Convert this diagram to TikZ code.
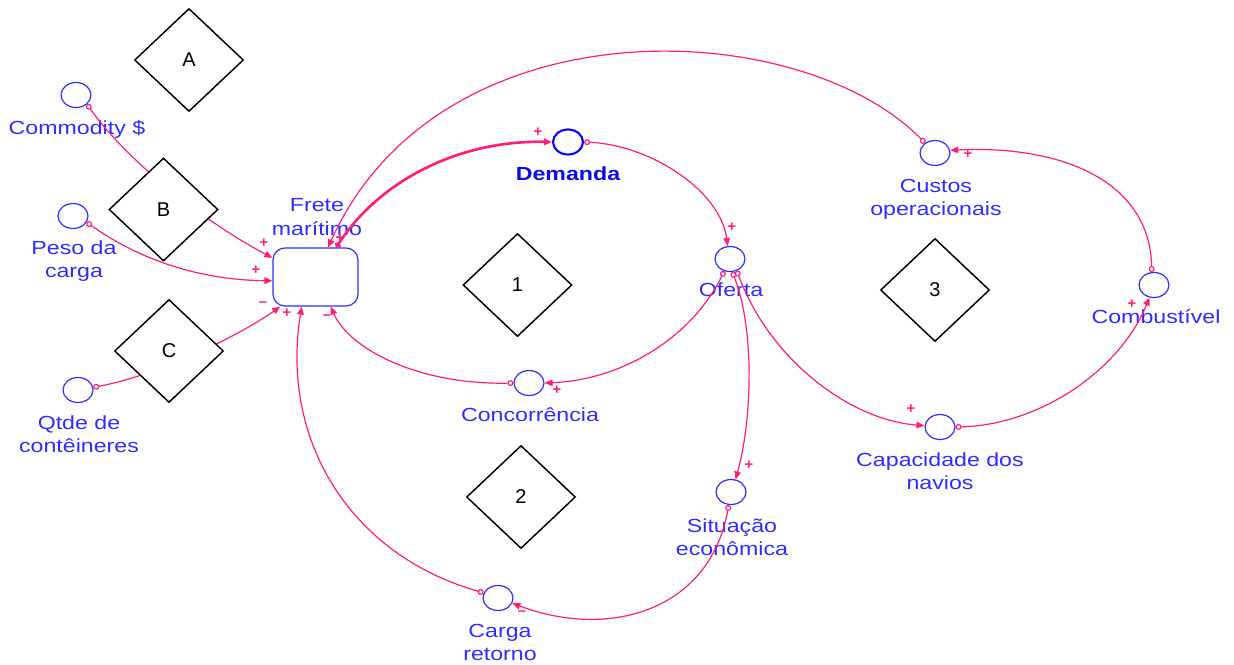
\documentclass[tikz,border=0pt]{standalone}
\usepackage{fontspec}
\setmainfont{Liberation Sans}
\newfontfamily\lblfont[FakeStretch=1.22]{Liberation Sans}
\usetikzlibrary{shapes.geometric,arrows.meta}
\definecolor{varblue}{RGB}{45,45,255}
\definecolor{demblue}{RGB}{10,10,230}
\definecolor{linkpink}{RGB}{255,30,120}

\tikzset{
  var/.style={ellipse, draw=varblue, line width=0.9pt, minimum width=22.5pt,
    minimum height=18.75pt, inner sep=0pt},
  lbl/.style={text=varblue, font=\lblfont\fontsize{14.25}{17.6}\selectfont,
    align=center, inner sep=0pt},
  link/.style={draw=linkpink, line width=0.9pt,
    {Circle[open,length=4.5pt,width=4.5pt]}-{Triangle[length=6pt,width=5pt]}},
  sgn/.style={text=linkpink, font=\bfseries\fontsize{11}{11}\selectfont, inner sep=0pt},
  loopmark/.style={diamond, draw=black, fill=white, line width=1.1pt,
    minimum width=81.75pt, minimum height=77.25pt, inner sep=0pt,
    font=\fontsize{15}{15}\selectfont},
  stockbox/.style={draw=varblue, line width=0.9pt, rounded corners=9pt,
    minimum width=63.75pt, minimum height=43.5pt, inner sep=0pt},
}

\begin{document}
\begin{tikzpicture}[x=0.75pt,y=-0.75pt]
\useasboundingbox (0,0) rectangle (1234,664);

% central stock
\node[stockbox] (frete) at (315.5,277) {};
\node[lbl] (freteL) at (317,217) {Frete\\marítimo};

% auxiliary variables
\node[var] (com) at (76,95) {};
\node[lbl, anchor=base] (comL) at (77,134) {Commodity \$};
\node[var] (peso) at (73,216) {};
\node[lbl] (pesoL) at (74,261) {Peso da\\carga};
\node[var] (qtde) at (78,390) {};
\node[lbl] (qtdeL) at (79,434) {Qtde de\\contêineres};
\node[var, draw=demblue, line width=1.6pt] (dem) at (568,142) {};
\node[lbl, anchor=base, text=demblue, font=\lblfont\bfseries\fontsize{14.25}{17.6}\selectfont] (demL) at (568,180) {Demanda};
\node[var] (of) at (730,259) {};
\node[lbl, anchor=base] (ofL) at (731,296) {Oferta};
\node[var] (cust) at (935,153) {};
\node[lbl] (custL) at (936,199.5) {Custos\\operacionais};
\node[var] (comb) at (1154,285) {};
\node[lbl, anchor=base] (combL) at (1156,323) {Combustível};
\node[var] (cap) at (940,427) {};
\node[lbl] (capL) at (940,471) {Capacidade dos\\navios};
\node[var] (conc) at (529,383) {};
\node[lbl, anchor=base] (concL) at (530,421) {Concorrência};
\node[var] (sit) at (731,492) {};
\node[lbl] (sitL) at (732,537) {Situação\\econômica};
\node[var] (carga) at (498,598) {};
\node[lbl] (cargaL) at (500,642.5) {Carga\\retorno};

% causal links
\draw[link] (com.-40) .. controls (130,165) and (210,225) .. (frete.156);
\draw[link] (peso.-25) .. controls (140,260) and (200,280) .. (frete.185);
\draw[link] (qtde.10) .. controls (160,375) and (240,335) .. (frete.220);
\draw[link] (carga.160) .. controls (350,555) and (280,440) .. (frete.-115);
\draw[link] (conc.180) .. controls (420,385) and (350,350) .. (frete.-63);
\draw[link] (of.-115) .. controls (690,340) and (620,380) .. (conc.0);
\draw[link, line width=2pt] (frete.55) .. controls (380,180) and (460,140) .. (dem.180);
\draw[link] (cust.135) .. controls (800,15) and (440,0) .. (frete.67);
\draw[link] (dem.0) .. controls (650,145) and (720,190) .. (of.100);
\draw[link] (of.-80) .. controls (755,330) and (752,420) .. (sit.70);
\draw[link] (sit.-100) .. controls (710,610) and (610,640) .. (carga.-20);
\draw[link] (of.-60) .. controls (770,360) and (850,420) .. (cap.175);
\draw[link] (cap.0) .. controls (1040,425) and (1120,370) .. (comb.-110);
\draw[link] (comb.100) .. controls (1150,180) and (1060,145) .. (cust.10);

% link polarities
\node[sgn] (s1) at (264,243) {+};
\node[sgn] (s2) at (256,270) {+};
\node[sgn] (s3) at (263,304) {–};
\node[sgn] (s4) at (287,313) {+};
\node[sgn] (s5) at (327,317) {–};
\node[sgn] (s6) at (557,390) {+};
\node[sgn] (s7) at (538,132) {+};
\node[sgn] (s8) at (340,238) {+};
\node[sgn] (s9) at (732,227) {+};
\node[sgn] (s10) at (749,465) {+};
\node[sgn] (s11) at (522,613) {–};
\node[sgn] (s12) at (911,409) {+};
\node[sgn] (s13) at (1132,304) {+};
\node[sgn] (s14) at (968,154) {+};

% loop and group markers
\node[loopmark] (dA) at (189,60) {A};
\node[loopmark] (dB) at (163.5,209.5) {B};
\node[loopmark] (dC) at (169,351) {C};
\node[loopmark] (d1) at (517.5,285) {1};
\node[loopmark] (d2) at (521,497) {2};
\node[loopmark] (d3) at (935,290) {3};
\end{tikzpicture}
\end{document}
